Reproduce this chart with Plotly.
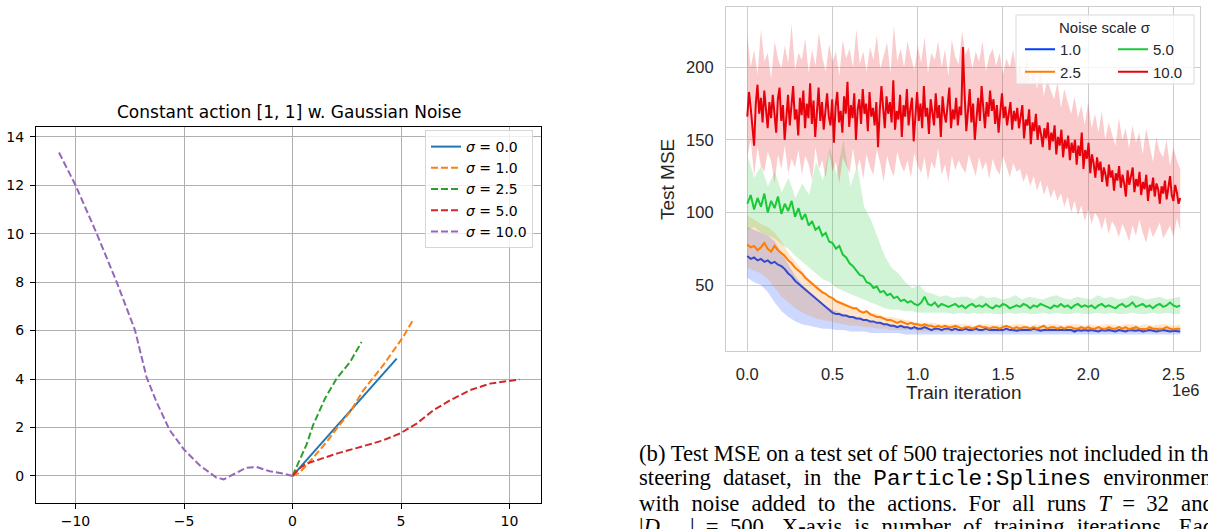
import numpy as np
import plotly.graph_objects as go

W, H = 1208, 529

# ---------------- left panel: trajectories under constant action ----------------
traj_names = ["<i>σ</i> = 0.0", "<i>σ</i> = 1.0", "<i>σ</i> = 2.5", "<i>σ</i> = 5.0", "<i>σ</i> = 10.0"]
traj_colors = ["#1f77b4", "#ff7f0e", "#2ca02c", "#d62728", "#9467bd"]

s00_x = [0.0, 4.8]
s00_y = [0.0, 4.84]
s10_x = [0.0, 0.3, 0.65, 1.1, 1.57, 2.03, 2.65, 3.26, 4.18, 5.1, 5.54]
s10_y = [0.0, 0.12, 0.44, 0.92, 1.4, 1.95, 2.64, 3.53, 4.57, 5.74, 6.42]
s25_x = [0.0, 0.3, 0.65, 0.95, 1.2, 1.5, 2.03, 2.65, 3.18]
s25_y = [0.0, 0.6, 1.3, 2.1, 2.6, 3.2, 4.02, 4.7, 5.53]
s50_x = [0.0, 0.3, 0.65, 2.03, 3.42, 4.18, 4.95, 5.72, 6.49, 7.26, 8.18, 9.1, 10.46]
s50_y = [0.0, 0.3, 0.51, 0.92, 1.27, 1.47, 1.75, 2.16, 2.71, 3.12, 3.54, 3.81, 3.98]
s100_x = [0.0, -0.43, -1.05, -1.66, -2.12, -2.74, -3.17, -3.51, -4.28, -5.0, -5.66,
          -6.27, -6.73, -7.26, -8.1, -9.02, -10.0, -10.76]
s100_y = [0.0, 0.1, 0.19, 0.37, 0.34, 0.06, -0.14, -0.07, 0.44, 1.09, 1.89,
          3.06, 4.09, 6.02, 8.0, 10.0, 12.0, 13.35]

# ---------------- right panel: test MSE vs train iteration ----------------
last_iter = 2.54  # x 1e6
noise_labels = ["1.0", "2.5", "5.0", "10.0"]
noise_colors = ["#023eff", "#ff7c00", "#1ac938", "#e8000b"]
noise_fills = ["rgba(2,62,255,0.2)", "rgba(255,124,0,0.2)", "rgba(26,201,56,0.2)", "rgba(232,0,11,0.2)"]

mse_10 = [70, 68, 69, 67, 68, 66, 67, 65, 66, 64,
          63, 61, 58, 56, 53, 51, 49, 47, 45, 43,
          41, 39, 37, 35, 33, 31, 30, 30, 29, 29,
          28, 28, 27, 27, 26, 26, 25, 25, 24, 24,
          23, 23, 22, 22, 21, 22, 21, 21, 20, 21,
          20, 20, 21, 20, 19, 20, 20, 19, 20, 20,
          19, 20, 19, 19, 20, 19, 19, 20, 19, 19,
          20, 19, 19, 18.5, 19, 19, 20, 19, 19, 18.5,
          19, 19, 18.5, 19, 20, 19, 18.5, 19, 19, 18.5,
          19, 18.5, 19, 19, 18.5, 19, 18, 19, 18.5, 19,
          18.5, 19, 18.5, 18, 19, 18.5, 19, 18.5, 18, 19,
          18.5, 18, 19, 18.5, 18.5, 19, 18, 18.5, 19, 18.5,
          18, 18.5, 19, 18.5, 18, 18.5, 18.5, 18]
mse_25 = [78, 76, 77, 74, 76, 79, 75, 73, 77, 74,
          72, 70, 67, 65, 62, 60, 58, 55, 53, 51,
          49, 47, 45, 44, 42, 41, 39, 38, 37, 36,
          35, 34, 34, 32, 31, 32, 30, 29, 28, 28,
          27, 26, 26, 25, 24, 25, 24, 23, 24, 23,
          23, 22, 23, 22, 22, 21, 22, 21, 22, 21,
          21, 22, 21, 20, 21, 21, 20, 21, 22, 21,
          21, 20, 21, 21, 20, 21, 22, 21, 20, 21,
          20, 21, 21, 20, 21, 20, 21, 22, 20, 21,
          21, 20, 21, 20, 21, 21, 20, 20, 21, 20,
          21, 20, 20, 21, 20, 19.5, 21, 20, 20, 21,
          20, 21, 19.5, 20, 21, 20, 20, 19.5, 21, 20,
          20, 19.5, 20, 21, 20, 19.5, 20, 20]
mse_50 = [106, 112, 102, 110, 104, 113, 100, 108, 103, 111,
          99, 106, 101, 108, 97, 103, 95, 99, 91, 94,
          88, 90, 84, 86, 80, 79, 75, 77, 71, 69,
          65, 63, 60, 57, 56, 52, 51, 48, 49, 45,
          46, 43, 44, 41, 42, 39, 40, 38, 39, 37,
          36, 38, 42, 37, 36, 38, 35, 37, 36, 35,
          36, 37, 35, 36, 34, 36, 37, 35, 36, 35,
          37, 35, 34, 36, 35, 37, 36, 34, 35, 36,
          35, 37, 36, 34, 36, 35, 37, 36, 35, 34,
          36, 35, 37, 35, 36, 34, 36, 37, 35, 36,
          35, 36, 34, 36, 37, 35, 36, 35, 34, 36,
          37, 35, 36, 38, 35, 36, 37, 35, 36, 34,
          36, 37, 35, 36, 38, 36, 35, 36]
mse_100 = [166, 183, 172, 160, 146, 175, 188, 168, 179, 162, 184, 171, 158, 176, 165, 181,
           170, 155, 178, 186, 163, 174, 150, 169, 181, 160, 173, 187, 164, 171, 153, 179,
           167, 184, 158, 175, 165, 189, 161, 177, 152, 170, 186, 163, 176, 157, 172, 182,
           166, 160, 178, 148, 173, 183, 162, 170, 155, 180, 168, 190, 159, 174, 165, 182,
           150, 171, 178, 161, 185, 168, 175, 156, 183, 166, 172, 160, 176, 145, 170, 187,
           172, 158, 180, 168, 176, 162, 191, 157, 170, 164, 181, 152, 174, 166, 185, 160,
           171, 179, 149, 168, 183, 163, 175, 158, 187, 166, 172, 154, 178, 169, 160, 182,
           165, 174, 152, 180, 168, 162, 177, 186, 158, 171, 164, 179, 160, 173, 167, 214,
           181, 156, 170, 185, 162, 175, 150, 168, 179, 163, 187, 172, 158, 176, 166, 184,
           170, 178, 161, 174, 155, 169, 182, 165, 173, 160, 168, 176, 157, 170, 163, 172,
           158, 166, 174, 151, 164, 160, 171, 147, 162, 156, 168, 150, 160, 154, 145, 158,
           151, 162, 143, 155, 149, 160, 140, 152, 146, 157, 138, 150, 144, 153, 136, 148,
           141, 150, 133, 146, 139, 155, 130, 143, 137, 148, 127, 140, 134, 124, 138, 129,
           135, 121, 131, 126, 118, 133, 124, 129, 115, 127, 122, 132, 117, 126, 120, 111,
           129, 119, 124, 131, 114, 123, 118, 128, 112, 121, 116, 126, 108, 119, 115, 124,
           111, 120, 116, 106, 118, 113, 122, 109, 117, 125, 112, 108, 119, 114, 106, 110]

# confidence bands
hi_10 = [90, 88, 86, 84, 80, 72, 64, 56, 50, 44, 40, 36, 34, 32, 30, 28,
         27, 26, 25, 24, 23, 23, 22, 22, 21, 21, 21, 20, 20, 20, 20, 20,
         20, 21, 20, 20, 21, 20, 20, 20, 21, 20, 20, 20, 21, 20, 20, 20,
         21, 20, 20, 20, 21, 20, 20, 20, 21, 20, 20, 20, 21, 20, 20, 20]
lo_10 = [55, 52, 50, 45, 38, 32, 28, 25, 23, 22, 21, 20, 20, 19, 19, 18,
         18, 18, 17, 17, 17, 17, 17, 16, 16, 16, 16, 16, 16, 16, 16, 16,
         16, 16, 16, 16, 16, 16, 16, 16, 16, 16, 16, 16, 16, 16, 16, 16,
         16, 16, 16, 16, 16, 16, 16, 16, 16, 16, 16, 16, 16, 16, 16, 16]
hi_25 = [98, 95, 92, 90, 86, 80, 72, 66, 60, 54, 50, 46, 42, 40, 38, 36,
         34, 32, 31, 30, 28, 28, 27, 26, 25, 24, 24, 24, 23, 23, 23, 23,
         23, 22, 23, 23, 22, 23, 22, 23, 23, 22, 23, 22, 23, 23, 22, 23,
         23, 22, 23, 22, 23, 23, 22, 23, 23, 22, 23, 22, 23, 23, 22, 23]
lo_25 = [62, 60, 58, 54, 48, 42, 38, 34, 31, 29, 27, 26, 25, 24, 23, 22,
         22, 21, 21, 20, 20, 19, 19, 19, 19, 18, 18, 18, 18, 18, 18, 18,
         17.5, 17.5, 17.5, 17.5, 17.5, 17.5, 17.5, 17.5, 17.5, 17.5, 17.5, 17.5, 17.5, 17.5, 17.5, 17.5,
         17.5, 17.5, 17.5, 17.5, 17.5, 17.5, 17.5, 17.5, 17.5, 17.5, 17.5, 17.5, 17.5, 17.5, 17.5, 17.5]
hi_50 = [140, 124, 132, 118, 128, 114, 124, 110, 120, 112, 135, 122, 145, 126, 150, 118,
         132, 104, 95, 82, 70, 62, 58, 52, 48, 50, 45, 44, 42, 43, 41, 42,
         42, 40, 43, 41, 42, 40, 41, 43, 40, 42, 41, 40, 42, 43, 41, 40,
         42, 41, 40, 43, 41, 42, 40, 41, 43, 42, 40, 41, 42, 40, 41, 42]
lo_50 = [88, 90, 86, 84, 82, 78, 75, 70, 66, 62, 58, 54, 52, 48, 46, 44,
         42, 40, 38, 36, 34, 33, 33, 32, 32, 31, 31, 31, 31, 31, 30, 31,
         30, 31, 30, 31, 30, 30, 31, 30, 31, 30, 30, 31, 30, 31, 30, 30,
         31, 30, 30, 31, 30, 31, 30, 30, 31, 30, 30, 31, 30, 31, 30, 30]
hi_100 = [222, 200, 212, 195, 226, 204, 210, 192, 218, 206, 199, 215, 203, 230, 198, 210,
          205, 220, 196, 212, 201, 224, 207, 197, 216, 204, 211, 194, 219, 206, 213, 200,
          226, 202, 211, 197, 214, 205, 222, 199, 208, 217, 196, 229, 204, 213, 200, 218,
          207, 198, 215, 203, 221, 196, 210, 205, 218, 200, 212, 194, 219, 207, 202, 225,
          209, 214, 199, 211, 204, 218, 197, 208, 213, 201, 210, 195, 206, 200, 212, 196,
          203, 192, 208, 188, 198, 185, 200, 180, 192, 184, 178, 190, 172, 185, 176, 168,
          180, 165, 174, 160, 176, 158, 168, 155, 170, 150, 162, 154, 146, 165, 150, 158,
          144, 160, 148, 155, 140, 158, 146, 135, 152, 142, 138, 150, 132, 145, 136, 130]
lo_100 = [138, 150, 125, 145, 132, 128, 142, 135, 120, 140, 130, 146, 127, 137, 131, 143,
          126, 139, 133, 122, 145, 130, 136, 124, 141, 128, 135, 120, 138, 132, 127, 144,
          129, 137, 123, 140, 131, 126, 143, 134, 121, 139, 130, 125, 142, 133, 128, 136,
          124, 141, 132, 127, 138, 122, 135, 130, 144, 126, 133, 121, 139, 129, 136, 131,
          127, 140, 133, 125, 138, 129, 135, 123, 137, 130, 126, 139, 132, 124, 134, 128,
          130, 121, 127, 118, 125, 115, 122, 112, 119, 110, 116, 108, 113, 104, 111, 100,
          108, 98, 105, 94, 102, 92, 100, 96, 88, 97, 85, 94, 90, 83, 92, 87,
          80, 91, 84, 95, 86, 79, 90, 83, 88, 93, 82, 86, 91, 83, 96, 88]

# caption text (justified in the paper, so the inter-word gaps are widened a little)
sp2 = " \u2009\u200a"
caption_lines = [
    "(b) Test MSE on a test set of 500 trajectories not included in the",
    sp2.join(["steering", "dataset,", "in", "the",
              "<span style=\"font-family:'Liberation Mono'\">Particle:Splines</span>", "environment"]),
    sp2.join(["with", "noise", "added", "to", "the", "actions.\u2002For", "all", "runs",
              "<i>T</i>\u2002=\u200232", "and"]),
    sp2.join(["|<i>D</i><sub>steer</sub>|\u2002=\u2002500.", "X-axis", "is", "number", "of",
              "training", "iterations.", "Each"]),
]

fig = go.Figure()

left_series = [(s00_x, s00_y), (s10_x, s10_y), (s25_x, s25_y), (s50_x, s50_y), (s100_x, s100_y)]
for k, (xs, ys) in enumerate(left_series):
    fig.add_trace(go.Scatter(
        x=xs, y=ys, mode="lines", name=traj_names[k], legend="legend",
        line=dict(color=traj_colors[k], width=2, dash="solid" if k == 0 else "7px,3px"),
        xaxis="x", yaxis="y"))

means = [mse_10, mse_25, mse_50, mse_100]
highs = [hi_10, hi_25, hi_50, hi_100]
lows = [lo_10, lo_25, lo_50, lo_100]
legend_of = ["legend2", "legend2", "legend3", "legend3"]
for k in range(4):
    bx = np.linspace(0, last_iter, len(highs[k]))
    mx = np.linspace(0, last_iter, len(means[k]))
    fig.add_trace(go.Scatter(x=bx, y=highs[k], mode="lines", line=dict(width=0),
                             showlegend=False, hoverinfo="skip", xaxis="x2", yaxis="y2"))
    fig.add_trace(go.Scatter(x=bx, y=lows[k], mode="lines", line=dict(width=0),
                             fill="tonexty", fillcolor=noise_fills[k],
                             showlegend=False, hoverinfo="skip", xaxis="x2", yaxis="y2"))
    fig.add_trace(go.Scatter(x=mx, y=means[k], mode="lines", name=noise_labels[k],
                             legend=legend_of[k],
                             line=dict(color=noise_colors[k], width=2),
                             xaxis="x2", yaxis="y2"))

def px_x(p):
    return p / W

def px_y(p):
    return 1 - p / H

left_font = dict(family="DejaVu Sans", size=14, color="black")
right_font = dict(family="Liberation Sans", size=16.5, color="#262626")

fig.update_layout(
    width=W, height=H,
    margin=dict(l=0, r=0, t=0, b=0),
    paper_bgcolor="white", plot_bgcolor="white",
    xaxis=dict(domain=[px_x(36), px_x(541)], range=[-11.82, 11.45], anchor="y",
               tickvals=[-10, -5, 0, 5, 10], ticktext=["\u221210", "\u22125", "0", "5", "10"],
               showgrid=True, gridcolor="#b0b0b0", gridwidth=1, zeroline=False,
               showline=True, mirror=True, linecolor="black", linewidth=1,
               ticks="outside", ticklen=5, tickcolor="black", tickfont=left_font),
    yaxis=dict(domain=[px_y(503.3), px_y(127.3)], range=[-1.13, 14.39], anchor="x",
               tickvals=[0, 2, 4, 6, 8, 10, 12, 14],
               showgrid=True, gridcolor="#b0b0b0", gridwidth=1, zeroline=False,
               showline=True, mirror=True, linecolor="black", linewidth=1,
               ticks="outside", ticklen=5, tickcolor="black", tickfont=left_font,
               ticklabelstandoff=3),
    xaxis2=dict(domain=[px_x(726), px_x(1200)], range=[-0.125, 2.656], anchor="y2",
                tickvals=[0, 0.5, 1.0, 1.5, 2.0, 2.5],
                ticktext=["0.0", "0.5", "1.0", "1.5", "2.0", "2.5"],
                showgrid=True, gridcolor="#cccccc", gridwidth=1, zeroline=False,
                showline=True, mirror=True, linecolor="#cccccc", linewidth=1.2,
                ticks="", tickfont=right_font, ticklabelstandoff=8),
    yaxis2=dict(domain=[px_y(351), px_y(7.3)], range=[4.6, 241.3], anchor="x2",
                tickvals=[50, 100, 150, 200],
                showgrid=True, gridcolor="#cccccc", gridwidth=1, zeroline=False,
                showline=True, mirror=True, linecolor="#cccccc", linewidth=1.2,
                ticks="", tickfont=right_font, ticklabelstandoff=8),
    legend=dict(x=px_x(425), y=px_y(130), xanchor="left", yanchor="top",
                traceorder="normal",
                bgcolor="rgba(255,255,255,0.8)", bordercolor="#d6d6d6", borderwidth=1,
                font=dict(family="DejaVu Sans", size=14, color="black"),
                tracegroupgap=0),
    legend2=dict(x=px_x(1020), y=px_y(33), xanchor="left", yanchor="top",
                 traceorder="normal", bgcolor="rgba(0,0,0,0)", borderwidth=0,
                 font=dict(family="Liberation Sans", size=15, color="#262626")),
    legend3=dict(x=px_x(1113), y=px_y(33), xanchor="left", yanchor="top",
                 traceorder="normal", bgcolor="rgba(0,0,0,0)", borderwidth=0,
                 font=dict(family="Liberation Sans", size=15, color="#262626")),
    showlegend=True,
)

# legend frame for the right panel
fig.add_shape(type="rect", xref="paper", yref="paper",
              x0=px_x(1016), x1=px_x(1194), y0=px_y(84), y1=px_y(15),
              line=dict(color="#d9d9d9", width=1), fillcolor="rgba(255,255,255,0.8)",
              layer="above")

annotations = [
    dict(text="Constant action [1, 1] w. Gaussian Noise", x=px_x(288.5), y=px_y(112),
         xanchor="center", yanchor="middle", font=dict(family="DejaVu Sans", size=17, color="black")),
    dict(text="Train iteration", x=px_x(963), y=px_y(392), xanchor="center", yanchor="middle",
         font=dict(family="Liberation Sans", size=19, color="#262626")),
    dict(text="Test MSE", x=px_x(668), y=px_y(180), xanchor="center", yanchor="middle",
         textangle=-90, font=dict(family="Liberation Sans", size=19, color="#262626")),
    dict(text="1e6", x=px_x(1202), y=px_y(390), xanchor="right", yanchor="middle",
         font=dict(family="Liberation Sans", size=16.5, color="#262626")),
    dict(text="Noise scale σ", x=px_x(1105), y=px_y(27), xanchor="center", yanchor="middle",
         font=dict(family="Liberation Sans", size=15, color="#262626")),
]
cap_y = [453, 478, 503, 528]
for line, yy in zip(caption_lines, cap_y):
    annotations.append(dict(text=line, x=px_x(637), y=px_y(yy), xanchor="left", yanchor="middle",
                            align="left", font=dict(family="Liberation Serif", size=22.7, color="black")))
for a in annotations:
    a.update(xref="paper", yref="paper", showarrow=False)
fig.update_layout(annotations=annotations)

fig.write_html("out.html", config={"displayModeBar": False},
               post_script="document.body.style.margin='0';")
